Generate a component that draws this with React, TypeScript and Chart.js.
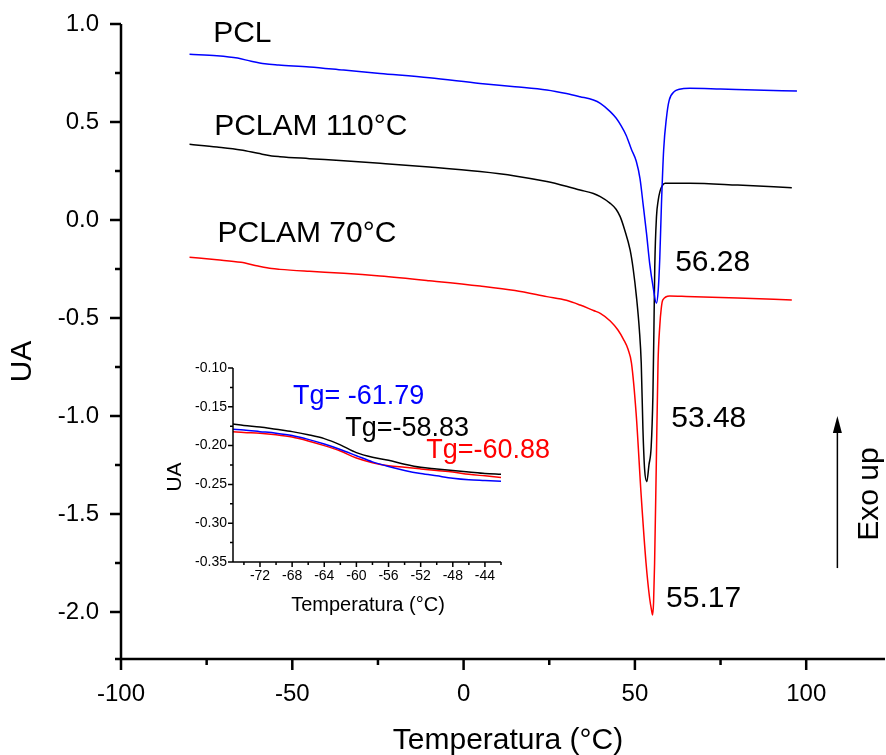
import React, { useEffect, useRef } from "react";
import { Chart, registerables } from "chart.js";
Chart.register(...registerables);

const FONT = "'Liberation Sans', Arial, Helvetica, sans-serif";

// ---------- main chart data ----------
const pclT = [-80, -72, -66, -62, -58, -54, -45, -35, -24.4, -10, 4.8, 15, 24.3, 30, 34, 37.9, 39.9, 42.8, 44.5, 46, 47.5, 49, 50.4, 51.5, 52.4, 53.4, 54.3, 55.3, 56.28, 56.8, 57.25, 57.75, 58.4, 59.2, 60, 61.5, 63, 66, 75, 85, 97.3];
const pclUA = [0.846, 0.838, 0.826, 0.81, 0.797, 0.791, 0.781, 0.765, 0.748, 0.726, 0.697, 0.68, 0.663, 0.645, 0.629, 0.612, 0.595, 0.553, 0.52, 0.48, 0.43, 0.36, 0.3, 0.21, 0.08, -0.07, -0.22, -0.34, -0.425, -0.36, -0.2, 0.08, 0.36, 0.52, 0.61, 0.655, 0.667, 0.672, 0.668, 0.663, 0.658];

const pclam110T = [-80, -72, -65, -60, -56, -53.6, -45, -35, -24.4, -10, 4.8, 15, 24.3, 30, 34, 37.9, 39.9, 42.8, 44.5, 45.7, 47, 48.6, 49.5, 50.5, 51.3, 51.85, 52.35, 52.85, 53.48, 54.1, 54.75, 55.25, 55.55, 55.8, 56.3, 56.8, 57.3, 58, 58.8, 62, 66, 80, 95.8];
const pclam110UA = [0.386, 0.372, 0.357, 0.34, 0.327, 0.323, 0.313, 0.302, 0.289, 0.27, 0.247, 0.225, 0.196, 0.172, 0.153, 0.135, 0.119, 0.085, 0.055, 0.017, -0.05, -0.153, -0.25, -0.4, -0.56, -0.73, -1.07, -1.276, -1.335, -1.25, -1.157, -0.9, -0.56, -0.238, 0.017, 0.1, 0.145, 0.175, 0.187, 0.187, 0.187, 0.178, 0.165];

const pclam70T = [-80, -72, -65, -60, -56, -53.6, -45, -35, -24.4, -10, 4.8, 15, 24.3, 30, 34, 37.9, 39.9, 42.8, 45, 46.7, 48, 49, 50.35, 51.85, 53.25, 54.3, 54.85, 55.17, 55.45, 55.75, 56.25, 56.75, 57.25, 57.7, 58.15, 60.15, 65, 80, 95.8];
const pclam70UA = [-0.19, -0.203, -0.216, -0.235, -0.248, -0.252, -0.262, -0.272, -0.286, -0.31, -0.337, -0.36, -0.391, -0.41, -0.434, -0.462, -0.476, -0.515, -0.56, -0.61, -0.66, -0.73, -0.985, -1.41, -1.75, -1.93, -1.99, -2.015, -1.95, -1.75, -1.24, -0.73, -0.544, -0.45, -0.408, -0.388, -0.39, -0.398, -0.408];

const mainXMajor = [-100, -50, 0, 50, 100];
const mainXMinor = [-75, -25, 25, 75];
const mainYMajor = [1.0, 0.5, 0.0, -0.5, -1.0, -1.5, -2.0];
const mainYMinor = [0.75, 0.25, -0.25, -0.75, -1.25, -1.75, -2.24];

// ---------- inset data ----------
const insetT = [-75.36, -74, -72, -70, -68, -66, -64, -62, -60, -58, -56, -54, -52, -50, -48, -46, -44, -42];
const insetPCL = [-0.179, -0.18, -0.182, -0.184, -0.187, -0.192, -0.198, -0.205, -0.213, -0.221, -0.227, -0.232, -0.236, -0.239, -0.242, -0.244, -0.245, -0.246];
const insetPCLAM110 = [-0.172, -0.174, -0.176, -0.179, -0.182, -0.186, -0.191, -0.199, -0.209, -0.215, -0.219, -0.224, -0.228, -0.23, -0.232, -0.234, -0.236, -0.237];
const insetPCLAM70 = [-0.182, -0.183, -0.184, -0.186, -0.189, -0.194, -0.2, -0.207, -0.216, -0.222, -0.226, -0.228, -0.23, -0.232, -0.234, -0.237, -0.239, -0.241];

const insetXMajor = [-72, -68, -64, -60, -56, -52, -48, -44];
const insetXMinor = [-74, -70, -66, -62, -58, -54, -50, -46, -42];
const insetYMajor = [-0.1, -0.15, -0.2, -0.25, -0.3, -0.35];
const insetYMinor = [-0.125, -0.175, -0.225, -0.275, -0.325];

type Note = { text: string; x: number; y: number; color: string; size: number };

const mainNotes: Note[] = [
  { text: "PCL", x: -73.1, y: 0.964, color: "#000", size: 30 },
  { text: "PCLAM 110°C", x: -72.8, y: 0.49, color: "#000", size: 30 },
  { text: "PCLAM 70°C", x: -71.8, y: -0.059, color: "#000", size: 30 },
  { text: "56.28", x: 61.75, y: -0.204, color: "#000", size: 30 },
  { text: "53.48", x: 60.6, y: -1.0, color: "#000", size: 30 },
  { text: "55.17", x: 59.1, y: -1.918, color: "#000", size: 30 },
];

const insetNotes: Note[] = [
  { text: "Tg= -61.79", x: -67.9, y: -0.1345, color: "#0000ff", size: 27 },
  { text: "Tg=-58.83", x: -61.4, y: -0.1758, color: "#000", size: 27 },
  { text: "Tg=-60.88", x: -51.3, y: -0.204, color: "#ff0000", size: 27 },
];

const exoArrow = { x: 109.1, yFrom: -1.776, yTo: -1.0 };
const exoText = { text: "Exo up", x: 118.6, y: -1.398 };

const toPts = (xs: number[], ys: number[]) => xs.map((x, i) => ({ x, y: ys[i] }));

type DecoOpts = {
  id: string;
  xMajor: number[]; xMinor: number[]; yMajor: number[]; yMinor: number[];
  lw: number; majorLen: number; minorLen: number;
  notes: Note[];
  xTitle: { text: string; size: number; dx: number; dy: number };
  yTitle: { text: string; size: number; dx: number; dy: number };
  extra?: (chart: any) => void;
};

const decoPlugin = (o: DecoOpts) => ({
  id: o.id,
  afterDraw(chart: any) {
    const { ctx, chartArea: a } = chart;
    const xs = chart.scales.x;
    const ys = chart.scales.y;
    ctx.save();
    ctx.strokeStyle = "#000";
    ctx.lineWidth = o.lw;
    ctx.lineCap = "butt";
    ctx.beginPath();
    ctx.moveTo(a.left, a.top);
    ctx.lineTo(a.left, a.bottom + o.lw / 2);
    ctx.moveTo(a.left - o.lw / 2, a.bottom);
    ctx.lineTo(a.right, a.bottom);
    for (const v of o.xMajor) {
      const p = xs.getPixelForValue(v);
      ctx.moveTo(p, a.bottom);
      ctx.lineTo(p, a.bottom + o.majorLen);
    }
    for (const v of o.xMinor) {
      const p = xs.getPixelForValue(v);
      if (p > a.right + 1) continue;
      ctx.moveTo(p, a.bottom);
      ctx.lineTo(p, a.bottom + o.minorLen);
    }
    for (const v of o.yMajor) {
      const p = ys.getPixelForValue(v);
      ctx.moveTo(a.left, p);
      ctx.lineTo(a.left - o.majorLen, p);
    }
    for (const v of o.yMinor) {
      const p = ys.getPixelForValue(v);
      ctx.moveTo(a.left, p);
      ctx.lineTo(a.left - o.minorLen, p);
    }
    ctx.stroke();

    for (const n of o.notes) {
      ctx.fillStyle = n.color;
      ctx.font = `${n.size}px ${FONT}`;
      ctx.textAlign = "left";
      ctx.textBaseline = "alphabetic";
      ctx.fillText(n.text, xs.getPixelForValue(n.x), ys.getPixelForValue(n.y) + 0.358 * n.size);
    }

    ctx.fillStyle = "#000";
    ctx.font = `${o.xTitle.size}px ${FONT}`;
    ctx.textAlign = "center";
    ctx.textBaseline = "middle";
    ctx.fillText(o.xTitle.text, (a.left + a.right) / 2 + o.xTitle.dx, a.bottom + o.xTitle.dy);

    ctx.save();
    ctx.font = `${o.yTitle.size}px ${FONT}`;
    ctx.translate(a.left + o.yTitle.dx, (a.top + a.bottom) / 2 + o.yTitle.dy);
    ctx.rotate(-Math.PI / 2);
    ctx.textAlign = "center";
    ctx.textBaseline = "middle";
    ctx.fillText(o.yTitle.text, 0, 0);
    ctx.restore();

    if (o.extra) o.extra(chart);
    ctx.restore();
  },
});

const lineDs = (label: string, pts: any[], color: string, w: number) => ({
  label,
  data: pts,
  borderColor: color,
  backgroundColor: color,
  borderWidth: w,
  pointRadius: 0,
  fill: false,
  cubicInterpolationMode: "monotone",
});

const fixY = (w: number) => (s: any) => {
  s.width = w;
  s.paddingTop = 0;
  s.paddingBottom = 0;
  s.paddingLeft = 0;
  s.paddingRight = 0;
};
const fixX = (h: number) => (s: any) => {
  s.height = h;
  s.paddingTop = 0;
  s.paddingBottom = 0;
  s.paddingLeft = 0;
  s.paddingRight = 0;
};

export default function App() {
  const mainRef = useRef<HTMLCanvasElement>(null);
  const insetRef = useRef<HTMLCanvasElement>(null);

  useEffect(() => {
    const mainChart = new Chart(mainRef.current as HTMLCanvasElement, {
      type: "line",
      data: {
        datasets: [
          lineDs("PCL", toPts(pclT, pclUA), "#0000ff", 1.5),
          lineDs("PCLAM 110°C", toPts(pclam110T, pclam110UA), "#000000", 1.5),
          lineDs("PCLAM 70°C", toPts(pclam70T, pclam70UA), "#ff0000", 1.5),
        ],
      },
      options: {
        animation: false,
        responsive: false,
        devicePixelRatio: 1,
        layout: { padding: { top: 24, right: 1, left: 0, bottom: 0 } },
        plugins: { legend: { display: false }, tooltip: { enabled: false } },
        scales: {
          x: {
            type: "linear",
            min: -100,
            max: 123,
            border: { display: false },
            grid: { display: false, drawTicks: false },
            afterBuildTicks: (s: any) => { s.ticks = mainXMajor.map((v) => ({ value: v })); },
            afterFit: fixX(96),
            ticks: {
              autoSkip: false, maxRotation: 0, padding: 21, color: "#000",
              font: { family: FONT, size: 24 },
              callback: (v: any) => String(v),
            },
          },
          y: {
            type: "linear",
            min: -2.24,
            max: 1.0,
            border: { display: false },
            grid: { display: false, drawTicks: false },
            afterBuildTicks: (s: any) => { s.ticks = mainYMajor.map((v) => ({ value: v })); },
            afterFit: fixY(121),
            ticks: {
              autoSkip: false, padding: 22, color: "#000",
              font: { family: FONT, size: 24 },
              callback: (v: any) => Number(v).toFixed(1),
            },
          },
        },
      },
      plugins: [
        decoPlugin({
          id: "mainDeco",
          xMajor: mainXMajor, xMinor: mainXMinor, yMajor: mainYMajor, yMinor: mainYMinor,
          lw: 2.5, majorLen: 11, minorLen: 6,
          notes: mainNotes,
          xTitle: { text: "Temperatura (°C)", size: 30, dx: 5, dy: 82 },
          yTitle: { text: "UA", size: 30, dx: -98, dy: 20 },
          extra: (chart: any) => {
            const { ctx } = chart;
            const xs = chart.scales.x;
            const ys = chart.scales.y;
            const px = xs.getPixelForValue(exoArrow.x);
            const y0 = ys.getPixelForValue(exoArrow.yFrom);
            const y1 = ys.getPixelForValue(exoArrow.yTo);
            ctx.strokeStyle = "#000";
            ctx.fillStyle = "#000";
            ctx.lineWidth = 1.5;
            ctx.beginPath();
            ctx.moveTo(px, y0);
            ctx.lineTo(px, y1 + 10);
            ctx.stroke();
            ctx.beginPath();
            ctx.moveTo(px, y1);
            ctx.lineTo(px - 4.5, y1 + 17);
            ctx.lineTo(px + 4.5, y1 + 17);
            ctx.closePath();
            ctx.fill();
            ctx.save();
            ctx.font = `30px ${FONT}`;
            ctx.translate(xs.getPixelForValue(exoText.x), ys.getPixelForValue(exoText.y));
            ctx.rotate(-Math.PI / 2);
            ctx.textAlign = "center";
            ctx.textBaseline = "middle";
            ctx.fillText(exoText.text, 0, 0);
            ctx.restore();
          },
        }),
      ],
    } as any);

    const insetChart = new Chart(insetRef.current as HTMLCanvasElement, {
      type: "line",
      data: {
        datasets: [
          lineDs("PCL", toPts(insetT, insetPCL), "#0000ff", 1.5),
          lineDs("PCLAM 110°C", toPts(insetT, insetPCLAM110), "#000000", 1.5),
          lineDs("PCLAM 70°C", toPts(insetT, insetPCLAM70), "#ff0000", 1.5),
        ],
      },
      options: {
        animation: false,
        responsive: false,
        devicePixelRatio: 1,
        layout: { padding: { top: 18, right: 59, left: 0, bottom: 0 } },
        plugins: { legend: { display: false }, tooltip: { enabled: false } },
        scales: {
          x: {
            type: "linear",
            min: -75.36,
            max: -42,
            border: { display: false },
            grid: { display: false, drawTicks: false },
            afterBuildTicks: (s: any) => { s.ticks = insetXMajor.map((v) => ({ value: v })); },
            afterFit: fixX(58),
            ticks: {
              autoSkip: false, maxRotation: 0, padding: 6, color: "#000",
              font: { family: FONT, size: 14 },
              callback: (v: any) => String(v),
            },
          },
          y: {
            type: "linear",
            min: -0.35,
            max: -0.1,
            border: { display: false },
            grid: { display: false, drawTicks: false },
            afterBuildTicks: (s: any) => { s.ticks = insetYMajor.map((v) => ({ value: v })); },
            afterFit: fixY(83),
            ticks: {
              autoSkip: false, padding: 6, color: "#000",
              font: { family: FONT, size: 14 },
              callback: (v: any) => Number(v).toFixed(2),
            },
          },
        },
      },
      plugins: [
        decoPlugin({
          id: "insetDeco",
          xMajor: insetXMajor, xMinor: insetXMinor, yMajor: insetYMajor, yMinor: insetYMinor,
          lw: 1.5, majorLen: 5, minorLen: 3,
          notes: insetNotes,
          xTitle: { text: "Temperatura (°C)", size: 20, dx: 1, dy: 43 },
          yTitle: { text: "UA", size: 21, dx: -58, dy: 12 },
        }),
      ],
    } as any);

    return () => {
      mainChart.destroy();
      insetChart.destroy();
    };
  }, []);

  return (
    <div style={{ position: "absolute", left: 0, top: 0, width: 886, height: 755, background: "#fff" }}>
      <canvas ref={mainRef} width={886} height={755} style={{ position: "absolute", left: 0, top: 0, width: 886, height: 755 }} />
      <canvas ref={insetRef} width={410} height={270} style={{ position: "absolute", left: 150, top: 350, width: 410, height: 270 }} />
    </div>
  );
}
